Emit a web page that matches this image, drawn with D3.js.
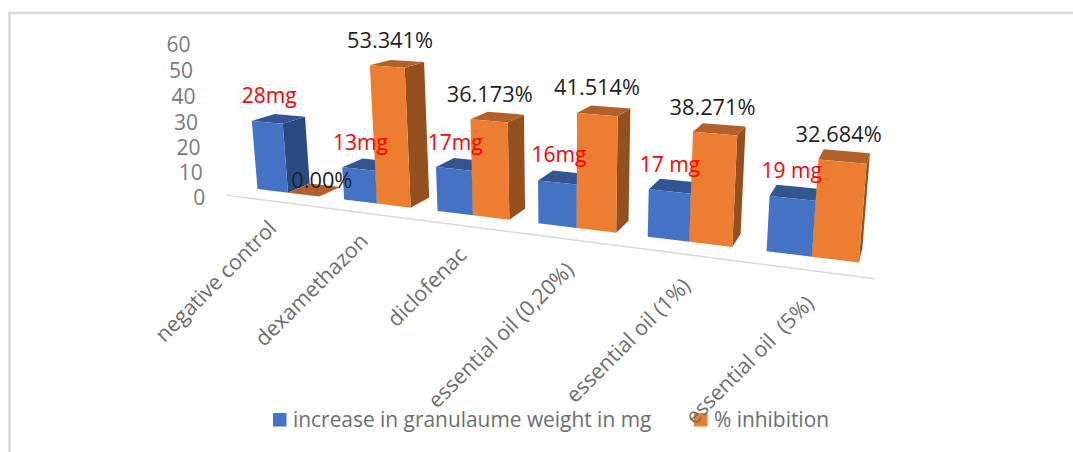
<!DOCTYPE html>
<html>
<head>
<meta charset="utf-8">
<title>Granuloma weight and inhibition</title>
<script src="https://cdn.jsdelivr.net/npm/d3@7"></script>
<style>
  html, body { margin: 0; padding: 0; background: #fff; }
  svg { display: block; }
  text { font-family: "Open Sans", sans-serif; white-space: pre; }
</style>
</head>
<body>
<svg id="chart" width="1073" height="452"></svg>
<script>
const categories = ["negative control", "dexamethazon", "diclofenac",
  "essential oil (0,20%)", "essential oil (1%)", "essential oil  (5%)"];
const weightValues = [28, 13, 17, 16, 17, 19];
const inhibitionValues = [0, 53.341, 36.173, 41.514, 38.271, 32.684];
const weightLabels = ["28mg", "13mg", "17mg", "16mg", "17 mg", "19 mg"];
const inhibitionLabels = ["0.00%", "53.341%", "36.173%", "41.514%", "38.271%", "32.684%"];
const yTicks = [0, 10, 20, 30, 40, 50, 60];
const seriesNames = ["increase in granulaume weight in mg", "% inhibition"];

// Hand-placed label offsets from the top of each bar
const weightNudge = [[-20.6, -12.4], [-18.3, -10], [-16, -9.7], [-12.7, -10.5], [-10.5, -9], [-7, -9]];
const inhibitionNudge = [[-3, 2.5], [-17, -13], [-16, -11.5], [-13.5, -12], [-11.6, -10], [-8, -9.5]];
// Offsets of the slanted category labels from the floor
const categoryNudge = [[9, 23], [9, 24], [9, 25.4], [9, 26.6], [9, 27.8], [5, 29]];

const svg = d3.select("#chart");

// Perspective camera: homogeneous coordinates over (category, value, depth)
const numX = d3.scaleLinear().domain([0, 5]).range([288, 664.5]);
const numYCat = d3.scaleLinear().domain([0, 5]).range([192.7, 210.1]);
const numYVal = d3.scaleLinear().domain([0, 60]).range([0, -152.4]);
const numXVal = d3.scaleLinear().domain([0, 60]).range([0, -22.2]);
const persp = { cat: -0.03632, val: -0.00065, depth: 0.034 };
const depthShift = { x: 32.2, y: -3 };

function project(cat, val, depth) {
  const w = 1 + persp.cat * cat + persp.val * val + persp.depth * depth;
  return [
    (numX(cat) + numXVal(val) + depthShift.x * depth) / w,
    (numYCat(cat) + numYVal(val) + depthShift.y * depth) / w
  ];
}

// Chart frame, open on the right and at the bottom
svg.append("path")
  .attr("d", "M9.5,452V13H1073")
  .attr("fill", "none")
  .attr("stroke", "#d9d9d9")
  .attr("stroke-width", 2.5);

// Floor line in front of the bars
const floor = [project(-0.5, 0, -0.8), project(5.5, 0, -0.9)];
svg.append("line")
  .attr("x1", floor[0][0]).attr("y1", floor[0][1])
  .attr("x2", floor[1][0]).attr("y2", floor[1][1])
  .attr("stroke", "#d9d9d9")
  .attr("stroke-width", 1.5);

// Value axis labels follow the left edge of the floor
svg.append("g").selectAll("text")
  .data(yTicks)
  .join("text")
  .attr("x", d => project(-0.6, d, -1)[0] - 8)
  .attr("y", d => project(-0.6, d, -1)[1] + 8.5)
  .attr("text-anchor", "end")
  .attr("font-size", 21)
  .attr("fill", "#7a7a7a")
  .text(d => d);

// Bars as three visible faces each, drawn left to right
const halfWidth = 0.36;
const palette = [
  { front: "#4472c4", side: "#2c4a82", top: "#335592" },
  { front: "#ed7d31", side: "#94501f", top: "#b3612a" }
];
const bars = [];
categories.forEach((c, i) => {
  bars.push({ x0: i - halfWidth, x1: i, v: weightValues[i], colors: palette[0] });
  bars.push({ x0: i, x1: i + halfWidth, v: inhibitionValues[i], colors: palette[1] });
});

function face(points) {
  return d3.line()(points);
}

const barGroups = svg.append("g").selectAll("g")
  .data(bars)
  .join("g");

barGroups.append("path")
  .attr("fill", d => d.colors.side)
  .attr("d", d => face([
    project(d.x1, 0, 0), project(d.x1, 0, 1),
    project(d.x1, d.v, 1), project(d.x1, d.v, 0)
  ]) + "Z");

barGroups.append("path")
  .attr("fill", d => d.colors.top)
  .attr("d", d => face([
    project(d.x0, d.v, 0), project(d.x1, d.v, 0),
    project(d.x1, d.v, 1), project(d.x0, d.v, 1)
  ]) + "Z");

barGroups.append("path")
  .attr("fill", d => d.colors.front)
  .attr("d", d => face([
    project(d.x0, 0, 0), project(d.x1, 0, 0),
    project(d.x1, d.v, 0), project(d.x0, d.v, 0)
  ]) + "Z");

// Value labels
svg.append("g").selectAll("text")
  .data(weightLabels)
  .join("text")
  .attr("x", (d, i) => project(i - 0.18, weightValues[i], 1)[0] + weightNudge[i][0])
  .attr("y", (d, i) => project(i - 0.18, weightValues[i], 1)[1] + weightNudge[i][1])
  .attr("text-anchor", "middle")
  .attr("font-size", 21)
  .attr("fill", "#ff0000")
  .text(d => d);

svg.append("g").selectAll("text")
  .data(inhibitionLabels)
  .join("text")
  .attr("x", (d, i) => project(i + 0.18, inhibitionValues[i], 1)[0] + inhibitionNudge[i][0])
  .attr("y", (d, i) => project(i + 0.18, inhibitionValues[i], 1)[1] + inhibitionNudge[i][1])
  .attr("text-anchor", "middle")
  .attr("font-size", 21.8)
  .attr("fill", "#1f1f1f")
  .text(d => d);

// Legend swatches and names
const legendItems = seriesNames.map((name, i) => ({
  name, color: palette[i].front, x: [273, 694][i]
}));
const legend = svg.append("g").selectAll("g")
  .data(legendItems)
  .join("g")
  .attr("transform", d => `translate(${d.x},413)`);
legend.append("rect")
  .attr("width", 13.5).attr("height", 13.5)
  .attr("fill", d => d.color);
legend.append("text")
  .attr("x", 20)
  .attr("y", 14)
  .attr("font-size", 20.9)
  .attr("fill", "#6e6e6e")
  .text(d => d.name);

// Category labels, slanted and ending just under the floor line
svg.append("g").selectAll("text")
  .data(categories)
  .join("text")
  .attr("transform", (d, i) => {
    const p = project(i, 0, -1);
    return `translate(${p[0] + categoryNudge[i][0]},${p[1] + categoryNudge[i][1]}) rotate(-45)`;
  })
  .attr("text-anchor", "end")
  .attr("dominant-baseline", "middle")
  .attr("font-size", 21.4)
  .attr("fill", "#6e6e6e")
  .text(d => d);
</script>
</body>
</html>
